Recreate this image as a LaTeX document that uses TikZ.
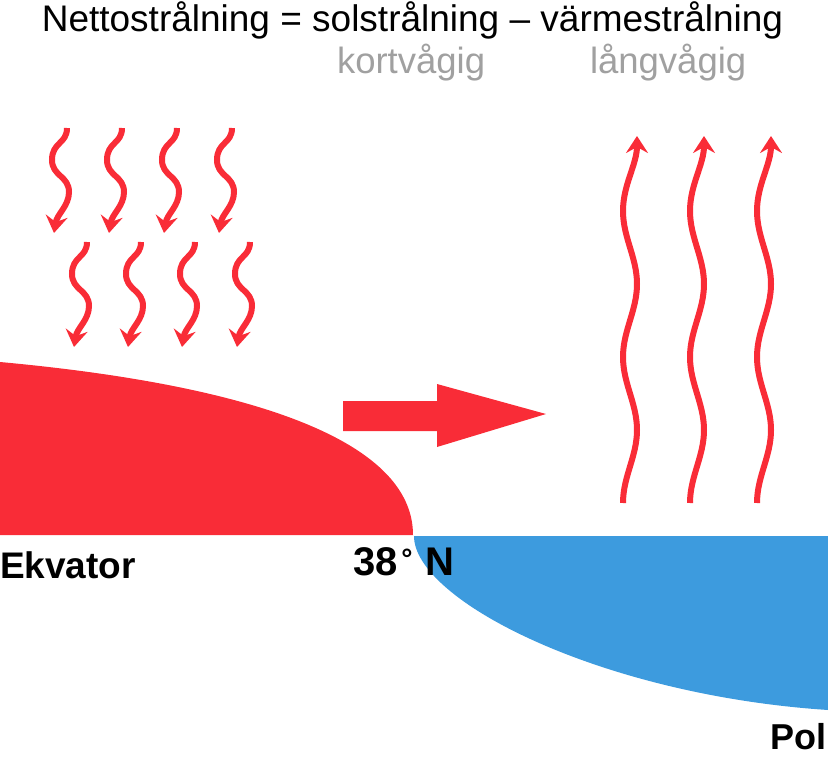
\documentclass[tikz,border=0pt]{standalone}
\usepackage{fontspec}
\setmainfont{Liberation Sans}
\usetikzlibrary{arrows.meta}
\definecolor{hotred}{RGB}{249,44,55}
\definecolor{coldblue}{RGB}{61,155,222}
\definecolor{subgray}{RGB}{160,160,160}
\tikzset{
  wavein/.style={hotred, line width=6pt, -{Stealth[length=17pt,width=22pt,inset=6pt]}},
  waveout/.style={hotred, line width=6pt, -{Stealth[length=17pt,width=22pt,inset=6pt]}},
  txt/.style={inner sep=0pt, outer sep=0pt}
}
\begin{document}
\begin{tikzpicture}[x=1pt, y=-1pt]
\useasboundingbox (0,0) rectangle (828,763);
% land masses
\fill[hotred] (0,362) .. controls (250,385) and (413,440) .. (413,535) -- (0,535) -- cycle;
\fill[coldblue] (414,536) -- (828,536) -- (828,710) .. controls (600,695) and (414,600) .. (414,536) -- cycle;
% big transport arrow
\fill[hotred] (343,401) -- (437,401) -- (437,384) -- (546,414) -- (437,447) -- (437,431) -- (343,431) -- cycle;
% incoming short-wave radiation
\foreach \xx/\yy in {67/128,122/128,177/128,232/128,87/242,141/242,195/242,250/242}{
  \begin{scope}[shift={(\xx,\yy)}]
    \draw[wavein] (0,0) .. controls (0,16) and (-15,14) .. (-15,32)
      .. controls (-15,48) and (2,48) .. (2,64)
      .. controls (2,78) and (-10,86) .. (-13,105);
  \end{scope}
}
% outgoing long-wave radiation
\foreach \xx in {623,690,757}{
  \begin{scope}[shift={(\xx,0)}]
    \draw[waveout] (0,503) .. controls (0,476.5) and (14,456.5) .. (14,430)
      .. controls (14,403.5) and (0,383.5) .. (0,357)
      .. controls (0,330.5) and (14,310.5) .. (14,284)
      .. controls (14,257.5) and (0,237.5) .. (0,211)
      .. controls (0,184.5) and (14,164.5) .. (14,136);
  \end{scope}
}
% texts
\node[txt, anchor=base] (title) at (412.5,31) {\fontsize{37}{37}\selectfont Nettostrålning = solstrålning – värmestrålning};
\node[txt, anchor=base west, text=subgray] (kort) at (337,73) {\fontsize{36.5}{36.5}\selectfont kortvågig};
\node[txt, anchor=base west, text=subgray] (lang) at (590,73) {\fontsize{36.5}{36.5}\selectfont långvågig};
\node[txt, anchor=base west] (ekv) at (0,578) {\fontsize{37}{37}\selectfont\bfseries Ekvator};
\node[txt, anchor=base west] (lat) at (353,575) {\fontsize{40}{40}\selectfont\bfseries 38\kern4pt\raisebox{7pt}{\fontsize{28}{28}\selectfont °}\kern13pt N};
\node[txt, anchor=base east] (pol) at (826,749) {\fontsize{36}{36}\selectfont\bfseries Pol};
\end{tikzpicture}
\end{document}
